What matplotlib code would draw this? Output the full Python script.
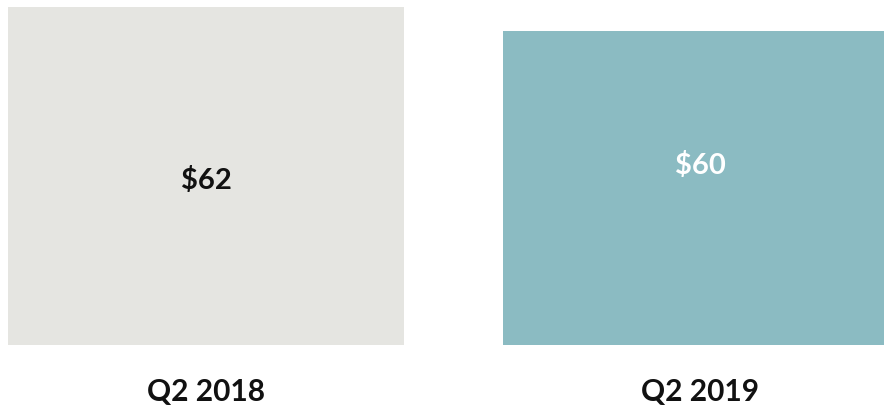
import matplotlib
matplotlib.use("Agg")
import matplotlib.pyplot as plt

# Quarterly values
categories = ["Q2 2018", "Q2 2019"]
values = [62, 60]
value_labels = ["$62", "$60"]
bar_colors = ["#E5E5E1", "#8BBBC2"]
label_colors = ["#111111", "#FFFFFF"]
label_y = [47.5, 48.75]

plt.rcParams["font.family"] = ["Lato", "DejaVu Sans"]

fig = plt.figure(figsize=(8.84, 4.11), dpi=100)
ax = fig.add_axes([0, 66 / 411, 1, 345 / 411])

baseline = 33.83
x = list(range(len(categories)))
ax.bar(x, [v - baseline for v in values], bottom=baseline, width=0.8,
       color=bar_colors, edgecolor="none")

ax.set_xlim(-0.417, 1.372)
ax.set_ylim(baseline, 62.58)

for xi, lab, col, ly in zip(x, value_labels, label_colors, label_y):
    ax.text(xi, ly, lab, ha="center", va="center", fontsize=21,
            fontweight="bold", color=col)

for xi, cat in zip(x, categories):
    ax.annotate(cat, xy=(xi, baseline), xycoords="data",
                xytext=(0, -47), textcoords="offset pixels",
                ha="center", va="center", fontsize=21.5, fontweight="bold",
                color="#111111")

ax.axis("off")
fig.savefig("out.png", dpi=100, facecolor="white")
